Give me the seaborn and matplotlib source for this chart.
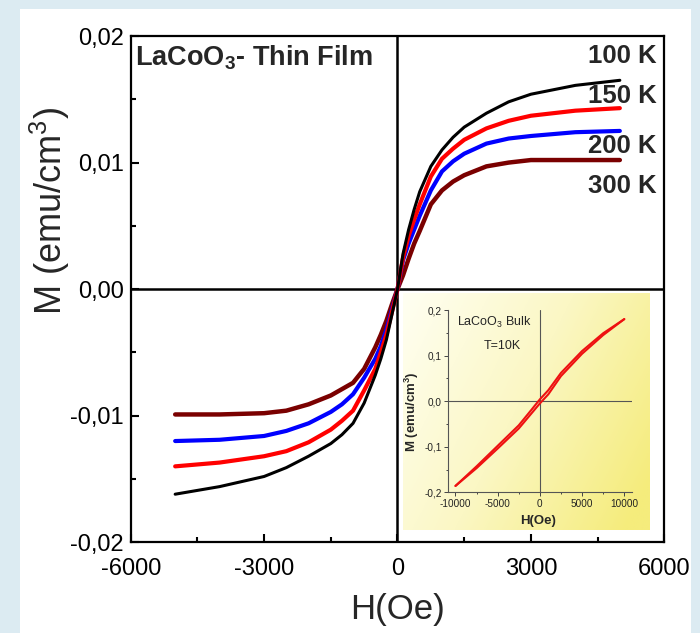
import numpy as np
import pandas as pd
import matplotlib
matplotlib.use("Agg")
import matplotlib.pyplot as plt
import seaborn as sns
from matplotlib.ticker import MultipleLocator
from matplotlib.patches import Rectangle
from matplotlib.colors import LinearSegmentedColormap

# ---------------- data ----------------
H_OE = [-5000, -4000, -3000, -2500, -2000, -1500, -1250, -1000, -750, -500, -375,
        -250, -125, 0, 125, 250, 375, 500, 750, 1000, 1250, 1500, 2000, 2500,
        3000, 4000, 5000]
M_100K = [-0.0162, -0.0156, -0.0148, -0.0141, -0.0132, -0.0122, -0.0115, -0.0106,
          -0.0090, -0.0068, -0.0055, -0.0040, -0.0020, 0.0000, 0.0028, 0.0047,
          0.0063, 0.0077, 0.0097, 0.0110, 0.0120, 0.0128, 0.0139, 0.0148, 0.0154,
          0.0161, 0.0165]
M_150K = [-0.0140, -0.0137, -0.0132, -0.0128, -0.0121, -0.0111, -0.0104, -0.0096,
          -0.0080, -0.0063, -0.0050, -0.0036, -0.0018, 0.0000, 0.0025, 0.0042,
          0.0055, 0.0067, 0.0089, 0.0103, 0.0111, 0.0118, 0.0127, 0.0133, 0.0137,
          0.0141, 0.0143]
M_200K = [-0.0120, -0.0119, -0.0116, -0.0112, -0.0106, -0.0097, -0.0091, -0.0083,
          -0.0070, -0.0055, -0.0045, -0.0032, -0.0016, 0.0000, 0.0023, 0.0036,
          0.0047, 0.0058, 0.0078, 0.0093, 0.0101, 0.0107, 0.0115, 0.0119, 0.0121,
          0.0124, 0.0125]
M_300K = [-0.0099, -0.0099, -0.0098, -0.0096, -0.0091, -0.0084, -0.0079, -0.0074,
          -0.0063, -0.0046, -0.0036, -0.0025, -0.0012, 0.0000, 0.0011, 0.0024,
          0.0036, 0.0046, 0.0067, 0.0078, 0.0085, 0.0090, 0.0097, 0.0100, 0.0102,
          0.0102, 0.0102]
TEMPS = ["100 K", "150 K", "200 K", "300 K"]
SERIES = [M_100K, M_150K, M_200K, M_300K]
COLORS = ["#000000", "#ff0000", "#0000ff", "#7a0000"]

X_TICKS = [-6000, -3000, 0, 3000, 6000]
X_TICK_LABELS = ["-6000", "-3000", "0", "3000", "6000"]
Y_TICKS = [-0.02, -0.01, 0.0, 0.01, 0.02]
Y_TICK_LABELS = ["-0,02", "-0,01", "0,00", "0,01", "0,02"]

# inset: bulk LaCoO3 at 10 K
H_BULK = [-10000, -7500, -5000, -2500, -1000, 0, 1000, 2500, 5000, 7500, 10000]
M_BULK_DOWN = [-0.186, -0.143, -0.098, -0.053, -0.019, 0.004, 0.024, 0.062, 0.110, 0.149, 0.180]
M_BULK_UP = [-0.186, -0.147, -0.104, -0.060, -0.027, -0.005, 0.015, 0.055, 0.104, 0.145, 0.180]
IN_X_TICKS = [-10000, -5000, 0, 5000, 10000]
IN_X_TICK_LABELS = ["-10000", "-5000", "0", "5000", "10000"]
IN_Y_TICKS = [-0.2, -0.1, 0.0, 0.1, 0.2]
IN_Y_TICK_LABELS = ["-0,2", "-0,1", "0,0", "0,1", "0,2"]

# ---------------- style ----------------
sns.set_style("ticks")
plt.rcParams["font.family"] = ["Liberation Sans", "DejaVu Sans"]
plt.rcParams["mathtext.fontset"] = "custom"
plt.rcParams["mathtext.rm"] = "Liberation Sans"
plt.rcParams["mathtext.it"] = "Liberation Sans:italic"
plt.rcParams["mathtext.bf"] = "Liberation Sans:bold"

W, Hh = 700, 633
fig = plt.figure(figsize=(7.0, 6.33), dpi=100)
fig.patch.set_facecolor("#dcebf2")
fig.add_artist(Rectangle((20 / W, 0), (691 - 20) / W, (633 - 9) / Hh,
                         transform=fig.transFigure, facecolor="white",
                         edgecolor="none", zorder=0))

def fa(l, t, r, b):
    return [l / W, 1 - b / Hh, (r - l) / W, (b - t) / Hh]

ax = fig.add_axes(fa(130.7, 36, 664.3, 542.3))
ax.set_facecolor("white")

df = pd.DataFrame({
    "H": H_OE * len(TEMPS),
    "M": sum(SERIES, []),
    "T": np.repeat(TEMPS, len(H_OE)),
})
widths = {"100 K": 2.2, "150 K": 3.0, "200 K": 3.0, "300 K": 3.2}
for t, c in zip(TEMPS[::-1], COLORS[::-1]):
    sns.lineplot(data=df[df["T"] == t], x="H", y="M", color=c, sort=False,
                 estimator=None, linewidth=widths[t], ax=ax, legend=False,
                 zorder=3)

ax.axhline(0, color="black", lw=1.8, zorder=2)
ax.axvline(0, color="black", lw=1.8, zorder=2)

ax.set_xlim(-6000, 6000)
ax.set_ylim(-0.02, 0.02)
ax.set_xticks(X_TICKS)
ax.set_xticklabels(X_TICK_LABELS)
ax.set_yticks(Y_TICKS)
ax.set_yticklabels(Y_TICK_LABELS)
ax.xaxis.set_minor_locator(MultipleLocator(1500))
ax.yaxis.set_minor_locator(MultipleLocator(0.005))
ax.tick_params(which="both", direction="in", top=False, right=False,
               width=1.5, colors="black")
ax.tick_params(which="major", length=6, labelsize=17)
ax.tick_params(axis="x", which="major", pad=11)
ax.tick_params(axis="y", which="major", pad=5)
ax.tick_params(which="minor", length=3.5)
for s in ax.spines.values():
    s.set_linewidth(1.6)
    s.set_color("black")

ax.set_xlabel("H(Oe)", fontsize=25)
ax.set_ylabel("M (emu/cm$^3$)", fontsize=26)
ax.xaxis.set_label_coords(0.5, -0.1)
ax.yaxis.set_label_coords(-0.11, 0.655)

ax.text(0.008, 0.958, r"LaCoO$_\mathbf{3}$- Thin Film", transform=ax.transAxes,
        fontsize=19.5, fontweight="bold", ha="left", va="center")
for lab, y in zip(TEMPS, [0.9605, 0.8815, 0.783, 0.704]):
    ax.text(0.986, y, lab, transform=ax.transAxes, fontsize=18.5,
            fontweight="bold", ha="right", va="center", zorder=5)

# ---------------- inset ----------------
bg = fig.add_axes(fa(403, 293, 650, 530))
gx = np.linspace(0, 1, 200)[None, :]
gy = np.linspace(0, 1, 200)[:, None]
grad = np.clip(0.72 * gx + 0.35 * gy, 0, 1)
cmap = LinearSegmentedColormap.from_list("yel", ["#fffff2", "#fbf7c4", "#f5ec7c"])
bg.imshow(grad, cmap=cmap, aspect="auto", extent=[0, 1, 1, 0], interpolation="bilinear")
bg.set_axis_off()

axi = fig.add_axes(fa(448.3, 310, 632.3, 492.3))
axi.set_facecolor("none")
bulk = pd.DataFrame({
    "H": H_BULK[::-1] + H_BULK,
    "M": M_BULK_DOWN[::-1] + M_BULK_UP,
    "branch": ["down"] * len(H_BULK) + ["up"] * len(H_BULK),
})
for br in ["down", "up"]:
    sns.lineplot(data=bulk[bulk["branch"] == br], x="H", y="M", color="#ee1111",
                 sort=False, estimator=None, linewidth=1.5, ax=axi, legend=False,
                 zorder=3)
axi.axhline(0, color="#555555", lw=0.8, zorder=2)
axi.axvline(0, color="#555555", lw=0.8, zorder=2)
axi.set_xlim(-10850, 10950)
axi.set_ylim(-0.2, 0.2)
axi.set_xticks(IN_X_TICKS)
axi.set_xticklabels(IN_X_TICK_LABELS)
axi.set_yticks(IN_Y_TICKS)
axi.set_yticklabels(IN_Y_TICK_LABELS)
axi.xaxis.set_minor_locator(MultipleLocator(2500))
axi.yaxis.set_minor_locator(MultipleLocator(0.05))
axi.tick_params(which="both", direction="out", width=0.7, colors="#444444",
                labelcolor="#222222")
axi.tick_params(which="major", length=3, labelsize=7.2, pad=1.5)
axi.tick_params(which="minor", length=1.5)
axi.spines["top"].set_visible(False)
axi.spines["right"].set_visible(False)
for s in ["left", "bottom"]:
    axi.spines[s].set_linewidth(0.8)
    axi.spines[s].set_color("#555555")
axi.set_xlabel("H(Oe)", fontsize=9.5, fontweight="bold")
axi.set_ylabel(r"M (emu/cm$^\mathbf{3}$)", fontsize=9.5, fontweight="bold")
axi.xaxis.set_label_coords(0.49, -0.125)
axi.yaxis.set_label_coords(-0.15, 0.44)
axi.text(-9800, 0.172, r"LaCoO$_3$ Bulk", fontsize=9, ha="left", va="center")
axi.text(-6700, 0.122, "T=10K", fontsize=9, ha="left", va="center")

fig.savefig("out.png", dpi=100, facecolor=fig.get_facecolor())
